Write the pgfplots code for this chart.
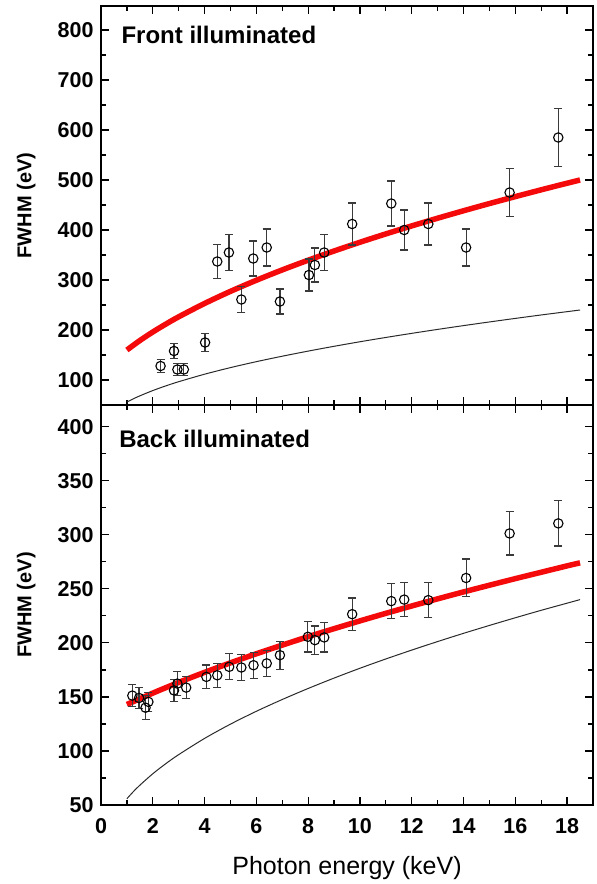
\documentclass[border=0pt]{standalone}
\usepackage{pgfplots}
\pgfplotsset{compat=1.18}
\usepackage{fontspec}
\setmainfont{Liberation Sans}

\definecolor{barcol}{HTML}{3A3A3A}
\definecolor{fanocol}{HTML}{2A2A2A}
\definecolor{fitred}{HTML}{F40A0A}

\pgfplotsset{
  fwhmpanel/.style={
    scale only axis,
    width=492pt,
    xmin=0, xmax=19,
    xtick={0,2,...,18},
    minor x tick num=1,
    minor y tick num=1,
    tick align=inside,
    tick pos=both,
    major tick length=8pt,
    minor tick length=5pt,
    axis line style={line width=1.5pt},
    every tick/.style={line width=1.3pt, black},
    /pgf/number format/assume math mode=true,
    ticklabel style={font=\fontsize{21.5}{25}\selectfont\bfseries},
    yticklabel style={xshift=-4pt},
    xticklabel style={yshift=-10pt},
    ylabel={FWHM (eV)},
    ylabel style={at={(axis description cs:-0.152,0.5)}, anchor=center,
      font=\fontsize{20}{24}\selectfont\bfseries},
    clip=false,
  },
  datapts/.style={
    only marks,
    mark=o,
    mark size=4.7pt,
    mark options={draw=black, fill=white, line width=1.1pt},
    error bars/.cd,
      y dir=both, y explicit,
      error bar style={line width=1.2pt, barcol},
      error mark options={rotate=90, mark size=4pt, line width=1.2pt, barcol},
  },
  fitline/.style={no marks, smooth, fitred, line width=5.5pt},
  fanoline/.style={no marks, smooth, fanocol, line width=1pt},
}

\begin{document}
\begin{tikzpicture}
\useasboundingbox (-101pt,6pt) rectangle (496pt,-878pt);

% Front-illuminated device
\begin{axis}[fwhmpanel,
  at={(0pt,0pt)}, anchor=north west,
  height=399pt,
  ymin=50, ymax=848,
  ytick={100,200,...,800},
  xticklabels={},
]
\addplot[fanoline] coordinates {
  (1,55.8) (1.25,62.4) (1.5,68.3) (2,78.9) (2.5,88.2) (3,96.6) (4,111.6)
  (5,124.8) (6,136.7) (7,147.6) (8,157.8) (9,167.4) (10,176.5) (11,185.1)
  (12,193.3) (13,201.2) (14,208.8) (15,216.1) (16,223.2) (17,230.1)
  (18,236.7) (18.5,240.0)
};
\addplot[fitline] coordinates {
  (1,160.0) (1.5,178.9) (2,196.0) (2.5,211.7) (3,226.4) (4,253.1) (5,277.3)
  (6,299.5) (7,320.2) (8,339.6) (9,358.0) (10,375.5) (11,392.2) (12,408.2)
  (13,423.6) (14,438.5) (15,452.9) (16,466.8) (17,480.4) (18,493.6)
  (18.5,500.0)
};
\addplot[datapts] coordinates {
  (2.30,128) +- (0,13)
  (2.82,158) +- (0,15)
  (2.95,121) +- (0,12)
  (3.20,121) +- (0,12)
  (4.02,175) +- (0,18)
  (4.49,337) +- (0,34)
  (4.94,355) +- (0,36)
  (5.42,261) +- (0,26)
  (5.88,343) +- (0,35)
  (6.40,365) +- (0,37)
  (6.91,257) +- (0,25)
  (8.03,310) +- (0,32)
  (8.26,330) +- (0,34)
  (8.62,355) +- (0,36)
  (9.70,412) +- (0,42)
  (11.21,453) +- (0,45)
  (11.71,400) +- (0,40)
  (12.64,412) +- (0,42)
  (14.10,365) +- (0,37)
  (15.78,475) +- (0,48)
  (17.66,585) +- (0,58)
};
\node[anchor=base west, font=\fontsize{24}{28}\selectfont\bfseries]
  at (axis description cs:0.0346,0.905) {Front illuminated};
\end{axis}

% Back-illuminated device
\begin{axis}[fwhmpanel,
  at={(0pt,-399pt)}, anchor=north west,
  height=400pt,
  ymin=50, ymax=420,
  ytick={50,100,...,400},
  xlabel={Photon energy (keV)},
  xlabel style={at={(axis description cs:0.5,-0.1725)}, anchor=base,
    font=\fontsize{25}{30}\selectfont},
]
\addplot[fanoline] coordinates {
  (1,55.8) (1.25,62.4) (1.5,68.3) (2,78.9) (2.5,88.2) (3,96.6) (4,111.6)
  (5,124.8) (6,136.7) (7,147.6) (8,157.8) (9,167.4) (10,176.5) (11,185.1)
  (12,193.3) (13,201.2) (14,208.8) (15,216.1) (16,223.2) (17,230.1)
  (18,236.7) (18.5,240.0)
};
\addplot[fitline] coordinates {
  (1,143.0) (2,153.5) (3,163.4) (4,172.7) (5,181.5) (6,189.9) (7,197.9)
  (8,205.7) (9,213.1) (10,220.3) (11,227.3) (12,234.1) (13,240.7)
  (14,247.1) (15,253.3) (16,259.4) (17,265.3) (18,271.2) (18.5,274.0)
};
\addplot[datapts] coordinates {
  (1.21,151.2) +- (0,10)
  (1.47,149.0) +- (0,10)
  (1.72,140.0) +- (0,11)
  (1.83,145.4) +- (0,9)
  (2.82,156.0) +- (0,10)
  (2.95,162.3) +- (0,11)
  (3.29,158.6) +- (0,10)
  (4.07,168.5) +- (0,11)
  (4.49,170.0) +- (0,11)
  (4.95,177.8) +- (0,12)
  (5.42,177.2) +- (0,12)
  (5.89,179.3) +- (0,12)
  (6.40,181.0) +- (0,12)
  (6.91,188.6) +- (0,13)
  (7.99,205.6) +- (0,14)
  (8.26,202.5) +- (0,13)
  (8.62,205.0) +- (0,13.5)
  (9.70,226.5) +- (0,15)
  (11.21,238.6) +- (0,16)
  (11.71,240.0) +- (0,16)
  (12.64,239.5) +- (0,16)
  (14.10,260.0) +- (0,17.5)
  (15.78,301.2) +- (0,20)
  (17.66,310.5) +- (0,21)
};
\node[anchor=base west, font=\fontsize{24}{28}\selectfont\bfseries]
  at (axis description cs:0.030,0.895) {Back illuminated};
\end{axis}
\end{tikzpicture}
\end{document}
